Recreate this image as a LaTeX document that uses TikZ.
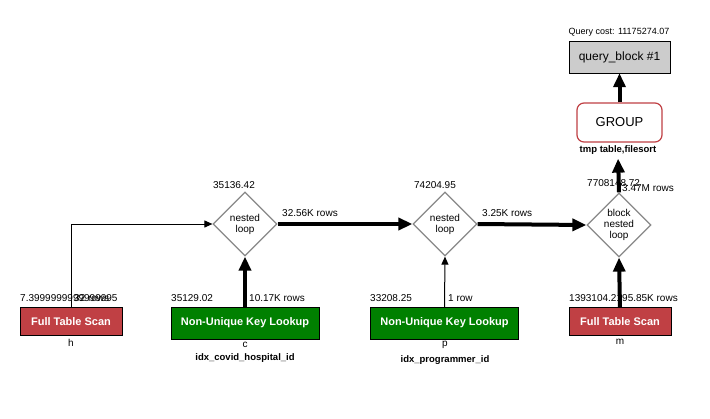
\documentclass[tikz,border=0pt]{standalone}
\usepackage{fontspec}
\setmainfont{Liberation Sans}
\usetikzlibrary{arrows.meta,shapes.geometric}
\definecolor{scanred}{RGB}{192,64,68}
\definecolor{keygreen}{RGB}{0,128,0}
\definecolor{loopgray}{RGB}{136,136,136}
\definecolor{blockgray}{RGB}{204,204,204}
\definecolor{groupred}{RGB}{192,64,68}

\begin{document}
\begin{tikzpicture}[x=1pt,y=-1pt,
	scanbox/.style={draw=black,fill=scanred,text=white,font=\fontsize{11}{12}\selectfont\bfseries,minimum width=102pt,minimum height=28pt,inner sep=0pt},
	keybox/.style={draw=black,fill=keygreen,text=white,font=\fontsize{11}{12}\selectfont\bfseries,minimum width=148pt,minimum height=32pt,inner sep=0pt},
	loopnode/.style={diamond,draw=loopgray,line width=1.2pt,fill=white,minimum width=64pt,minimum height=64pt,inner sep=0pt,align=center,font=\fontsize{10}{11}\selectfont},
	smalltxt/.style={font=\fontsize{10}{11}\selectfont,inner sep=0pt},
	boldtxt/.style={font=\fontsize{9.5}{11}\selectfont\bfseries,inner sep=0pt},
	fatflow/.style={line width=4pt,-{Triangle[length=14pt,width=12pt]}},
	thinflow/.style={line width=1pt,-{Triangle[length=8pt,width=7pt]}}]
	\fill[white] (0,0) rectangle (710,418);
	\useasboundingbox (0,0) rectangle (710,418);
	% top of the plan
	\node[smalltxt,font=\fontsize{9}{10}\selectfont] (cost) at (619,32) {Query cost: 11175274.07};
	\node[draw=black,fill=blockgray,minimum width=101pt,minimum height=32pt,inner sep=0pt,font=\fontsize{12}{13}\selectfont] (qblock) at (619.5,57) {query\_block \#1};
	\node[draw=groupred,line width=1.2pt,rounded corners=7pt,fill=white,minimum width=85pt,minimum height=39pt,inner sep=0pt,font=\fontsize{13}{14}\selectfont] (grp) at (619.5,122.5) {GROUP};
	\node[boldtxt] (grpnote) at (618,150) {tmp table,filesort};
	% joins
	\node[loopnode] (nl1) at (245,224) {nested\\loop};
	\node[loopnode] (nl2) at (445,224) {nested\\loop};
	\node[loopnode] (bnl) at (619,225) {block\\nested\\loop};
	\node[smalltxt] (nl1cost) at (234,185) {35136.42};
	\node[smalltxt] (nl2cost) at (435,185) {74204.95};
	\node[smalltxt,anchor=west] (bnlcost) at (587,183) {7708148.72};
	\node[smalltxt,anchor=west] (bnlrows) at (622,188) {3.47M rows};
	\node[smalltxt,anchor=west] (nl1rows) at (282,213) {32.56K rows};
	\node[smalltxt,anchor=west] (nl2rows) at (482,213) {3.25K rows};
	% tables
	\node[scanbox] (scanh) at (71,321.5) {Full Table Scan};
	\node[keybox] (lookc) at (245,323) {Non-Unique Key Lookup};
	\node[keybox] (lookp) at (444.5,323) {Non-Unique Key Lookup};
	\node[scanbox] (scanm) at (620,321.5) {Full Table Scan};
	\node[smalltxt] (hname) at (71,343) {h};
	\node[smalltxt] (cname) at (245,345) {c};
	\node[boldtxt] (cindex) at (245,358) {idx\_covid\_hospital\_id};
	\node[smalltxt] (pname) at (445,345) {p};
	\node[boldtxt] (pindex) at (445,360) {idx\_programmer\_id};
	\node[smalltxt] (mname) at (620,342) {m};
	\node[smalltxt,anchor=west] (hcost) at (20,298) {7.3999999999999995};
	\node[smalltxt,anchor=west] (hrows) at (74,298) {32 rows};
	\node[smalltxt,anchor=west] (ccost) at (171,298) {35129.02};
	\node[smalltxt,anchor=west] (crows) at (249,298) {10.17K rows};
	\node[smalltxt,anchor=west] (pcost) at (370,298) {33208.25};
	\node[smalltxt,anchor=west] (prows) at (448,298) {1 row};
	\node[smalltxt,anchor=west] (mcost) at (569,298) {1393104.21};
	\node[smalltxt,anchor=west] (mrows) at (622,298) {95.85K rows};
	% flows
	\draw[thinflow] (scanh.north) |- (nl1.west);
	\draw[fatflow] (lookc.north) -- (nl1.south);
	\draw[fatflow] (nl1.east) -- (nl2.west);
	\draw[thinflow] (lookp.north) -- (nl2.south);
	\draw[fatflow] (nl2.east) -- (bnl.west);
	\draw[fatflow] (scanm.north) -- (bnl.south);
	\draw[fatflow,shorten >=4pt] (bnl.north) -- (grpnote.south);
	\draw[fatflow] (grp.north) -- (qblock.south);
\end{tikzpicture}
\end{document}
